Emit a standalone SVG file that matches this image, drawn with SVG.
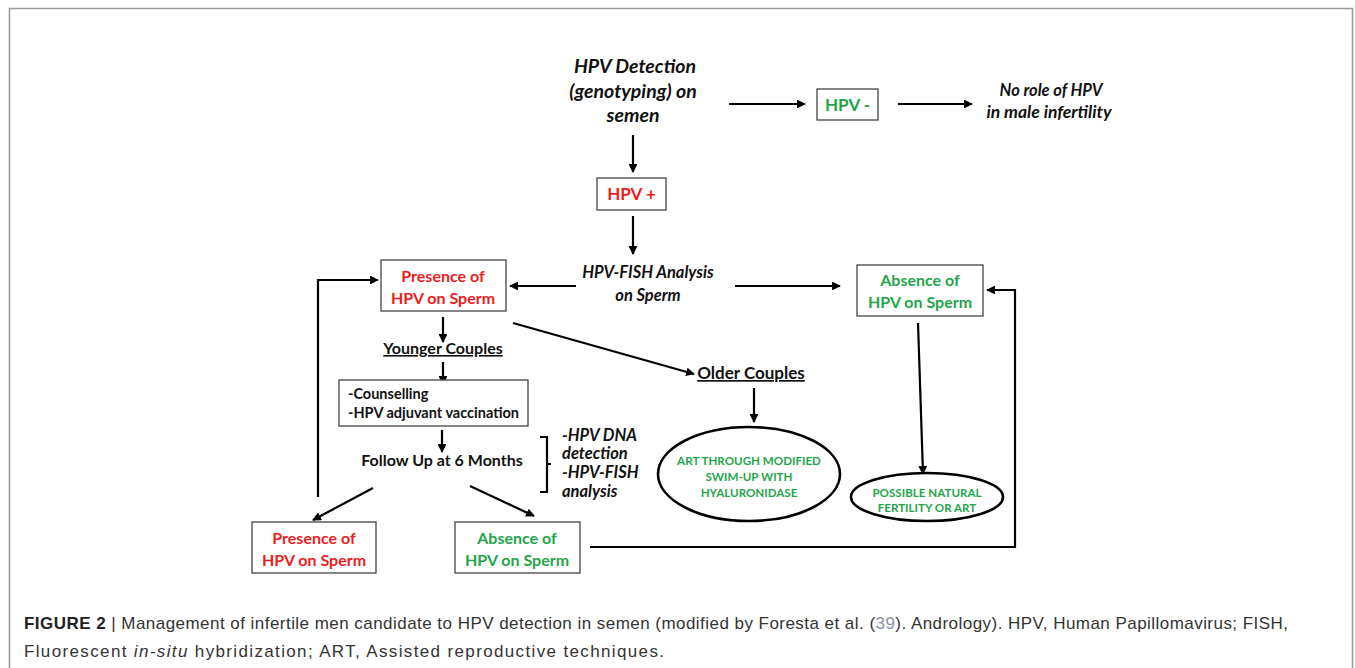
<svg xmlns="http://www.w3.org/2000/svg" width="1355" height="668" viewBox="0 0 1355 668">
<defs>
<marker id="ah" viewBox="0 0 10 10" refX="9" refY="5" markerWidth="4" markerHeight="4" orient="auto" markerUnits="strokeWidth">
<path d="M0,0 L10,5 L0,10 z" fill="#000"/>
</marker>
<style>
.t{font-family:Lato,"Open Sans","Liberation Sans",sans-serif;font-weight:bold;font-size:16px;fill:#111}
.it{font-style:italic}
.red{fill:#ee1c1c}
.grn{fill:#1fa64a}
.box{fill:#fff;stroke:#444;stroke-width:1.3}
.ell{fill:#fff;stroke:#000;stroke-width:2.6}
.c{stroke:#000;stroke-width:2.2;fill:none}
.ca{stroke:#000;stroke-width:2.2;fill:none;marker-end:url(#ah)}
.cap{font-family:"Liberation Sans",Arial,sans-serif;font-size:17px;fill:#333}
.sm{font-size:11.6px}
.big{font-size:19.5px}
.s145{font-size:14.5px}
.s165{font-size:16.5px}
.s17{font-size:17px}
.s175{font-size:17.5px}
</style>
</defs>
<rect x="0" y="0" width="1355" height="668" fill="#fff"/>
<path d="M9.5,680 L9.5,8.5 L1352.5,8.5 L1352.5,680" fill="none" stroke="#9a9a9a" stroke-width="1.6"/>

<g id="connectors">
<line class="ca" x1="729" y1="104" x2="805" y2="104"/>
<line class="ca" x1="898" y1="104" x2="972" y2="104"/>
<line class="ca" x1="633" y1="135" x2="633" y2="172"/>
<line class="ca" x1="633" y1="216" x2="633" y2="254"/>
<line class="ca" x1="576" y1="286" x2="510" y2="286"/>
<line class="ca" x1="735" y1="286" x2="840" y2="286"/>
<polyline class="ca" points="590,547 1015,547 1015,290 987,290"/>
<polyline class="ca" points="318,497 318,280 378,280"/>
<line class="ca" x1="443" y1="317" x2="443" y2="342"/>
<line class="ca" x1="443" y1="362" x2="443" y2="384"/>
<line class="ca" x1="442" y1="430" x2="442" y2="452"/>
<line class="ca" x1="373" y1="488" x2="313" y2="520"/>
<line class="ca" x1="470" y1="486" x2="534" y2="516"/>
<line class="ca" x1="513" y1="323" x2="694" y2="374"/>
<line class="ca" x1="754" y1="388" x2="754" y2="422"/>
<line class="ca" x1="918" y1="323" x2="923" y2="474"/>
<path class="c" d="M540,437 L547,437 L547,492 L540,492 M547,464 L551,464" stroke-width="1.8"/>
</g>

<g id="detection">
<text class="t it big" x="635" y="73" text-anchor="middle">HPV Detection</text>
<text class="t it big" x="633" y="98" text-anchor="middle">(genotyping) on</text>
<text class="t it big" x="633" y="122" text-anchor="middle">semen</text>
</g>
<g id="hpv-neg">
<rect class="box" x="817" y="89" width="61" height="31"/>
<text class="t grn s17" x="847.5" y="111" text-anchor="middle">HPV -</text>
</g>
<g id="no-role">
<text class="t it s165" x="1051" y="96" text-anchor="middle">No role of HPV</text>
<text class="t it s175" x="1049" y="118" text-anchor="middle">in male infertility</text>
</g>
<g id="hpv-pos">
<rect class="box" x="597" y="178" width="69" height="32"/>
<text class="t red s17" x="631.5" y="200" text-anchor="middle">HPV +</text>
</g>
<g id="fish">
<text class="t it s165" x="648" y="278" text-anchor="middle">HPV-FISH Analysis</text>
<text class="t it s165" x="648" y="301" text-anchor="middle">on Sperm</text>
</g>
<g id="presence-top">
<rect class="box" x="381" y="260" width="125" height="51"/>
<text class="t red" x="443" y="282" text-anchor="middle">Presence of</text>
<text class="t red" x="443" y="304" text-anchor="middle">HPV on Sperm</text>
</g>
<g id="absence-top">
<rect class="box" x="857" y="265" width="126" height="51"/>
<text class="t grn" x="920" y="286" text-anchor="middle">Absence of</text>
<text class="t grn" x="920" y="308" text-anchor="middle">HPV on Sperm</text>
</g>
<g id="younger">
<text class="t" x="443" y="354" text-anchor="middle" text-decoration="underline">Younger Couples</text>
</g>
<g id="counselling">
<rect class="box" x="339" y="380" width="189" height="46"/>
<text class="t s145" x="348" y="399">-Counselling</text>
<text class="t s145" x="348" y="418">-HPV adjuvant vaccination</text>
</g>
<g id="followup">
<text class="t" x="442" y="466" text-anchor="middle">Follow Up at 6 Months</text>
</g>
<g id="tests">
<text class="t it s165" x="562" y="441">-HPV DNA</text>
<text class="t it s165" x="562" y="459">detection</text>
<text class="t it s165" x="562" y="478">-HPV-FISH</text>
<text class="t it s165" x="562" y="497">analysis</text>
</g>
<g id="presence-bottom">
<rect class="box" x="252" y="522" width="124" height="51"/>
<text class="t red" x="314" y="544" text-anchor="middle">Presence of</text>
<text class="t red" x="314" y="566" text-anchor="middle">HPV on Sperm</text>
</g>
<g id="absence-bottom">
<rect class="box" x="455" y="522" width="125" height="51"/>
<text class="t grn" x="517" y="544" text-anchor="middle">Absence of</text>
<text class="t grn" x="517" y="566" text-anchor="middle">HPV on Sperm</text>
</g>
<g id="older">
<text class="t s17" x="751" y="379" text-anchor="middle" text-decoration="underline">Older Couples</text>
</g>
<g id="art-swim">
<ellipse class="ell" cx="749" cy="474" rx="91" ry="47"/>
<text class="t grn sm" x="749" y="465" text-anchor="middle">ART THROUGH MODIFIED</text>
<text class="t grn sm" x="749" y="481" text-anchor="middle">SWIM-UP WITH</text>
<text class="t grn sm" x="749" y="497" text-anchor="middle">HYALURONIDASE</text>
</g>
<g id="natural">
<ellipse class="ell" cx="927" cy="497" rx="76" ry="24"/>
<text class="t grn sm" x="927" y="497" text-anchor="middle">POSSIBLE NATURAL</text>
<text class="t grn sm" x="927" y="512" text-anchor="middle">FERTILITY OR ART</text>
</g>

<g id="caption">
<text class="cap" x="24" y="629" textLength="1264" lengthAdjust="spacing"><tspan font-weight="bold" fill="#222">FIGURE 2</tspan> | Management of infertile men candidate to HPV detection in semen (modified by Foresta et al. (<tspan fill="#8a8fa8">39</tspan>). Andrology). HPV, Human Papillomavirus; FISH,</text>
<text class="cap" x="24" y="657" textLength="640" lengthAdjust="spacing">Fluorescent <tspan font-style="italic">in-situ</tspan> hybridization; ART, Assisted reproductive techniques.</text>
</g>
</svg>
